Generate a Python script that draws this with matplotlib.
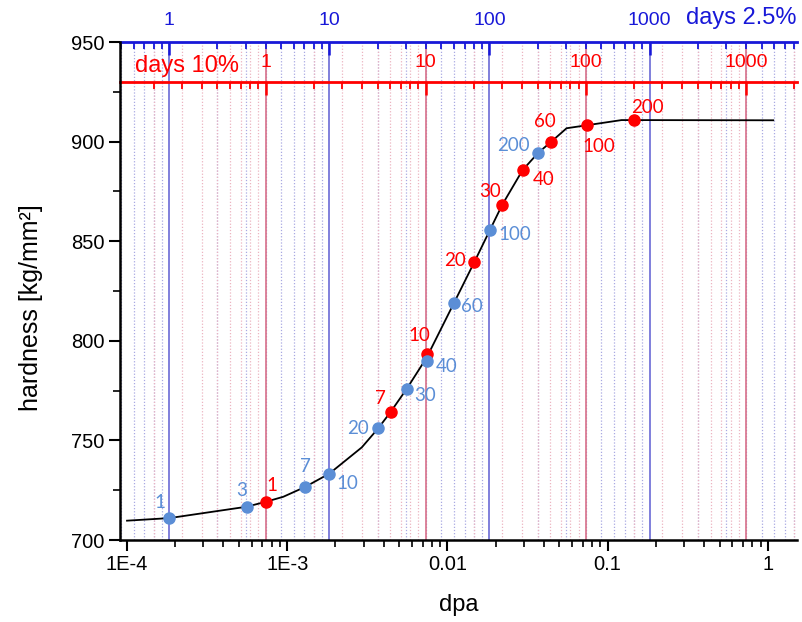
import numpy as np
import matplotlib
matplotlib.use('Agg')
import matplotlib.pyplot as plt
from matplotlib.ticker import FixedLocator, FixedFormatter, LogLocator, NullFormatter, MultipleLocator

plt.rcParams['font.family'] = ['Liberation Sans', 'DejaVu Sans']

# hardness vs. damage curve
curve_dpa = [1.0e-4, 1.84e-4, 5.58e-4, 7.37e-4, 9.45e-4, 1.29e-3, 1.83e-3, 2.92e-3,
             3.70e-3, 4.42e-3, 5.56e-3, 7.41e-3, 0.0110, 0.01469, 0.01841, 0.02198,
             0.02945, 0.03687, 0.04426, 0.0554, 0.0740, 0.122, 0.1459, 1.08]
curve_hv = [709.7, 711.0, 716.7, 719.2, 721.7, 726.6, 733.3, 746.5,
            756.1, 764.3, 775.8, 791.5, 819.1, 839.4, 855.6, 868.3,
            885.7, 894.4, 899.8, 906.7, 908.2, 910.8, 910.8, 910.7]

# irradiation days at 2.5 %
blue_days = [1, 3, 7, 10, 20, 30, 40, 60, 100, 200]
blue_dpa = [1.84e-4, 5.58e-4, 1.29e-3, 1.83e-3, 3.70e-3, 5.56e-3, 7.41e-3, 0.0110, 0.01841, 0.03687]
blue_hv = [710.9, 716.7, 726.6, 733.3, 756.1, 775.8, 790.0, 819.1, 855.6, 894.4]

# irradiation days at 10 %
red_days = [1, 7, 10, 20, 30, 40, 60, 100, 200]
red_dpa = [7.37e-4, 4.42e-3, 7.41e-3, 0.01469, 0.02198, 0.02945, 0.04426, 0.0740, 0.1459]
red_hv = [719.2, 764.3, 793.4, 839.4, 868.3, 885.7, 899.8, 908.2, 910.8]

dpa_ticks = [1e-4, 1e-3, 1e-2, 1e-1, 1]
dpa_tick_labels = ['1E-4', '1E-3', '0.01', '0.1', '1']
day_ticks = [1, 10, 100, 1000]
day_tick_labels = ['1', '10', '100', '1000']

BLUE_DPA_PER_DAY = 1.83e-4
RED_DPA_PER_DAY = 7.32e-4

# label offsets in pixels (x right, y up)
blue_offsets = [(-10, 16), (-5, 16), (0, 21), (18, -10), (-20, 0), (18, -6), (20, -6), (18, -4), (25, -4), (-25, 7)]
red_offsets = [(6, 16), (-10, 13), (-7, 18), (-19, 2), (-12, 13), (21, -9), (-6, 20), (12, -21), (13, 13)]

BLUE = '#1818d8'
RED = '#ff0000'
PT_BLUE = '#5b8ed6'
PT_RED = '#ff0000'

fig = plt.figure(figsize=(8.03, 6.22), dpi=100)
ax = fig.add_axes([120 / 803, 82 / 622, 677 / 803, 498 / 622])
ax.set_xscale('log')
ax.set_xlim(9.04e-5, 1.52)
ax.set_ylim(700, 950)

# grid lines for both day scales
x0, x1 = ax.get_xlim()
for factor, major_c, minor_c in [(BLUE_DPA_PER_DAY, '#6a6ad6', '#a9a9e2'),
                                  (RED_DPA_PER_DAY, '#d8708a', '#ecb4c0')]:
    for dec in [0.1, 1, 10, 100, 1000]:
        for m in range(1, 10):
            x = dec * m * factor
            if x0 < x < x1:
                if m == 1:
                    ax.axvline(x, color=major_c, lw=1.2, zorder=0)
                else:
                    ax.axvline(x, color=minor_c, lw=0.9, ls=(0, (1, 1.5)), zorder=0)

ax.plot(curve_dpa, curve_hv, color='black', lw=1.3, zorder=3)
ax.plot(red_dpa, red_hv, 'o', color=PT_RED, ms=8, zorder=4)
ax.plot(blue_dpa, blue_hv, 'o', color=PT_BLUE, ms=8, zorder=5)

for d, x, y, off in zip(red_days, red_dpa, red_hv, red_offsets):
    ax.annotate(str(d), (x, y), xytext=off, textcoords='offset pixels', ha='center', va='center',
                color=PT_RED, fontsize=13.5, family=['Lato', 'DejaVu Sans'], zorder=6)
for d, x, y, off in zip(blue_days, blue_dpa, blue_hv, blue_offsets):
    ax.annotate(str(d), (x, y), xytext=off, textcoords='offset pixels', ha='center', va='center',
                color=PT_BLUE, fontsize=13.5, family=['Lato', 'DejaVu Sans'], zorder=6)

# main axes styling
for s in ['top', 'right']:
    ax.spines[s].set_visible(False)
for s in ['left', 'bottom']:
    ax.spines[s].set_linewidth(1.8)
ax.xaxis.set_major_locator(FixedLocator(dpa_ticks))
ax.xaxis.set_major_formatter(FixedFormatter(dpa_tick_labels))
ax.xaxis.set_minor_locator(LogLocator(subs=np.arange(2, 10), numticks=20))
ax.xaxis.set_minor_formatter(NullFormatter())
ax.yaxis.set_major_locator(MultipleLocator(50))
ax.yaxis.set_minor_locator(MultipleLocator(25))
ax.tick_params(which='major', direction='out', length=8, width=1.5, labelsize=14.5, pad=3)
ax.tick_params(which='minor', direction='out', length=5, width=1.2)
ax.set_xlabel('dpa', fontsize=17, labelpad=14)
ax.set_ylabel('hardness [kg/mm²]', fontsize=18)
ax.yaxis.set_label_coords(-0.113, 0.466)

# days axis at 2.5 %
sec_b = ax.secondary_xaxis('top', functions=(lambda x: x / BLUE_DPA_PER_DAY,
                                             lambda d: d * BLUE_DPA_PER_DAY))
sec_b.xaxis.set_major_locator(FixedLocator(day_ticks))
sec_b.xaxis.set_major_formatter(FixedFormatter(day_tick_labels))
sec_b.xaxis.set_minor_locator(LogLocator(subs=np.arange(2, 10), numticks=20))
sec_b.xaxis.set_minor_formatter(NullFormatter())
sec_b.tick_params(which='major', direction='in', length=9, width=1.8, colors=BLUE, labelsize=14, pad=9)
sec_b.tick_params(which='minor', direction='in', length=5, width=1.3, color=BLUE)
sec_b.spines['top'].set_color(BLUE)
sec_b.spines['top'].set_linewidth(2)

# days axis at 10 %
sec_r = ax.secondary_xaxis(930, functions=(lambda x: x / RED_DPA_PER_DAY,
                                           lambda d: d * RED_DPA_PER_DAY),
                           transform=ax.transData)
sec_r.xaxis.set_major_locator(FixedLocator(day_ticks))
sec_r.xaxis.set_major_formatter(FixedFormatter(day_tick_labels))
sec_r.xaxis.set_minor_locator(LogLocator(subs=np.arange(2, 10), numticks=20))
sec_r.xaxis.set_minor_formatter(NullFormatter())
sec_r.tick_params(which='major', direction='in', length=9, width=1.8, colors=RED, labelsize=14, pad=8)
sec_r.tick_params(which='minor', direction='in', length=5, width=1.3, color=RED)
sec_r.spines['top'].set_color(RED)
sec_r.spines['top'].set_linewidth(2)

ax.text(1.0, 1.048, 'days 2.5%', transform=ax.transAxes, ha='right', va='center', color=BLUE, fontsize=17)
ax.text(0.022, 0.952, 'days 10%', transform=ax.transAxes, ha='left', va='center', color=RED, fontsize=17)

fig.savefig('out.png', dpi=100)
